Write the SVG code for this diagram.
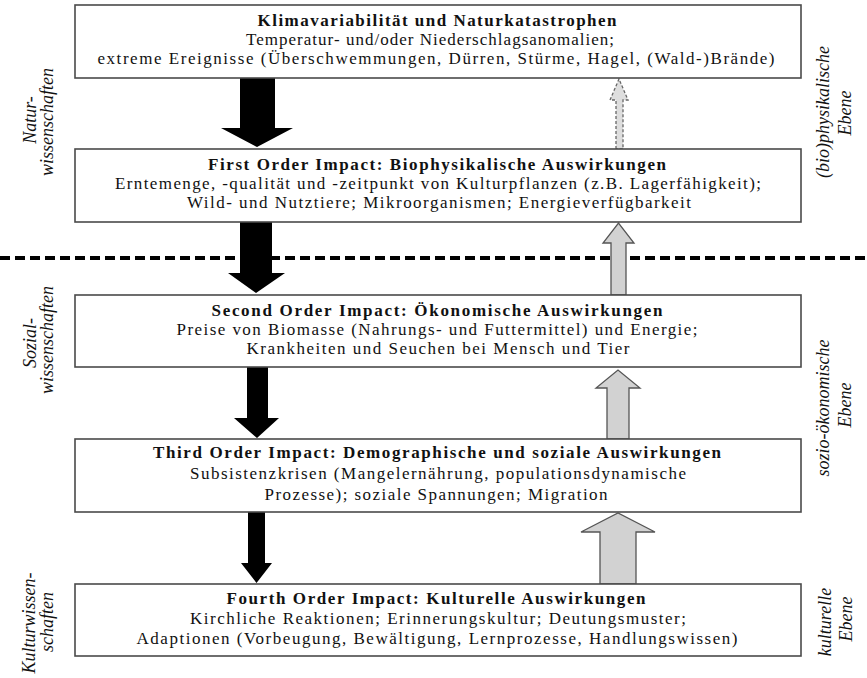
<svg xmlns="http://www.w3.org/2000/svg" width="867" height="678" viewBox="0 0 867 678">
<style>
.box{fill:#fff;stroke:#4a4a4a;stroke-width:1.6}
.t{font-family:"Liberation Serif","Times New Roman",serif;font-size:17px;fill:#111;text-anchor:middle}
.b{font-weight:bold}
.side{font-family:"Liberation Serif","Times New Roman",serif;font-size:18px;font-style:italic;fill:#111;text-anchor:middle}
.down{fill:#000;stroke:none}
.up{fill:#d2d2d2;stroke:#555;stroke-width:1.3}
.updash{fill:#dedede;stroke:#666;stroke-width:1.3;stroke-dasharray:3 2}
.sep{stroke:#000;stroke-width:4;stroke-dasharray:10 5;fill:none}
</style>
<rect width="867" height="678" fill="#fff"/>
<g id="connectors">
<line class="sep" x1="0" y1="258" x2="867" y2="258"/>
<polygon class="down" points="240,78 275,78 275,128 293,128 257,147 221,128 240,128"/>
<polygon class="down" points="240,222 272,222 272,273 285,273 256,293 228,273 240,273"/>
<polygon class="down" points="247,367 268,367 268,418 279,418 257,438 234,418 247,418"/>
<polygon class="down" points="248,512 265,512 265,563 272,563 256.5,583 241,563 248,563"/>
<polygon class="updash" points="616,149 616,100 610,100 619,79 628,100 623,100 623,149"/>
<polygon class="up" points="611,295 611,243 603,243 618.5,223 634,243 626,243 626,295"/>
<polygon class="up" points="607,439 607,388 596,388 618,370 640,388 629,388 629,439"/>
<polygon class="up" points="600,584 600,532 581,532 618,513 655,532 636,532 636,584"/>
</g>
<g id="n1">
<rect class="box" x="75" y="5" width="726" height="73"/>
<text class="t b" x="437" y="26" textLength="359" lengthAdjust="spacing">Klimavariabilität und Naturkatastrophen</text>
<text class="t" x="430" y="45" textLength="368" lengthAdjust="spacing">Temperatur- und/oder Niederschlagsanomalien;</text>
<text class="t" x="436" y="64" textLength="677" lengthAdjust="spacing">extreme Ereignisse (Überschwemmungen, Dürren, Stürme, Hagel, (Wald-)Brände)</text>
</g>
<g id="n2">
<rect class="box" x="75" y="149" width="726" height="73"/>
<text class="t b" x="437" y="170" textLength="458" lengthAdjust="spacing">First Order Impact: Biophysikalische Auswirkungen</text>
<text class="t" x="438" y="189" textLength="646" lengthAdjust="spacing">Erntemenge, -qualität und -zeitpunkt von Kulturpflanzen (z.B. Lagerfähigkeit);</text>
<text class="t" x="439" y="208" textLength="504" lengthAdjust="spacing">Wild- und Nutztiere; Mikroorganismen; Energieverfügbarkeit</text>
</g>
<g id="n3">
<rect class="box" x="75" y="295" width="726" height="72"/>
<text class="t b" x="437" y="316" textLength="451" lengthAdjust="spacing">Second Order Impact: Ökonomische Auswirkungen</text>
<text class="t" x="437" y="335" textLength="521" lengthAdjust="spacing">Preise von Biomasse (Nahrungs- und Futtermittel) und Energie;</text>
<text class="t" x="438" y="354" textLength="383" lengthAdjust="spacing">Krankheiten und Seuchen bei Mensch und Tier</text>
</g>
<g id="n4">
<rect class="box" x="75" y="439" width="726" height="73"/>
<text class="t b" x="437" y="458" textLength="568" lengthAdjust="spacing">Third Order Impact: Demographische und soziale Auswirkungen</text>
<text class="t" x="438" y="479" textLength="496" lengthAdjust="spacing">Subsistenzkrisen (Mangelernährung, populationsdynamische</text>
<text class="t" x="436" y="500" textLength="343" lengthAdjust="spacing">Prozesse); soziale Spannungen; Migration</text>
</g>
<g id="n5">
<rect class="box" x="75" y="584" width="726" height="72"/>
<text class="t b" x="436" y="604" textLength="419" lengthAdjust="spacing">Fourth Order Impact: Kulturelle Auswirkungen</text>
<text class="t" x="438" y="624" textLength="496" lengthAdjust="spacing">Kirchliche Reaktionen; Erinnerungskultur; Deutungsmuster;</text>
<text class="t" x="437" y="644" textLength="601" lengthAdjust="spacing">Adaptionen (Vorbeugung, Bewältigung, Lernprozesse, Handlungswissen)</text>
</g>
<g id="label-natur">
<text class="side" transform="translate(36,120) rotate(-90)">Natur-</text>
<text class="side" transform="translate(53,122) rotate(-90)">wissenschaften</text>
</g>
<g id="label-sozial">
<text class="side" transform="translate(36,343) rotate(-90)">Sozial-</text>
<text class="side" transform="translate(53,340) rotate(-90)">wissenschaften</text>
</g>
<g id="label-kultur">
<text class="side" transform="translate(35,623) rotate(-90)">Kulturwissen-</text>
<text class="side" transform="translate(53,622) rotate(-90)">schaften</text>
</g>
<g id="label-bio">
<text class="side" transform="translate(829,112) rotate(-90)">(bio)physikalische</text>
<text class="side" transform="translate(851,113) rotate(-90)">Ebene</text>
</g>
<g id="label-sozio">
<text class="side" transform="translate(829,408) rotate(-90)">sozio-ökonomische</text>
<text class="side" transform="translate(851,405) rotate(-90)">Ebene</text>
</g>
<g id="label-kulturell">
<text class="side" transform="translate(831,622) rotate(-90)">kulturelle</text>
<text class="side" transform="translate(852,619) rotate(-90)">Ebene</text>
</g>
</svg>
